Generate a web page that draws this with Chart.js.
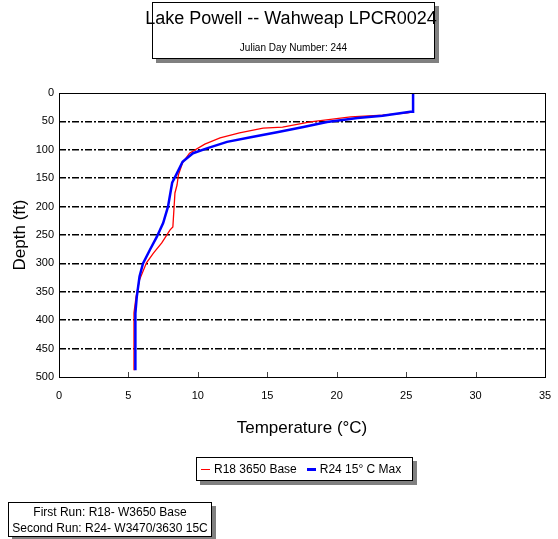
<!DOCTYPE html>
<html>
<head>
<meta charset="utf-8">
<script src="https://cdn.jsdelivr.net/npm/chart.js@4/dist/chart.umd.min.js"></script>
<style>
  body { margin: 0; background: #fff; font-family: "Liberation Sans", Arial, sans-serif; }
  #wrap { position: relative; width: 558px; height: 539px; }
  canvas { position: absolute; left: 0; top: 0; }
  .box { position: absolute; background: #fff; border: 1px solid #000; box-shadow: 4px 4px 0 #808080; box-sizing: border-box; }
  #titleBox { left: 152px; top: 2px; width: 283px; height: 57px; }
  #title { position: absolute; left: 0; width: 582px; top: 8px; text-align: center; font-size: 18px; white-space: nowrap; }
  #subtitle { position: absolute; left: 152px; width: 283px; top: 42px; text-align: center; font-size: 10px; }
  #legendBox { left: 196px; top: 457px; width: 217px; height: 24px; font-size: 12px; display: flex; align-items: center; padding-left: 4px; white-space: nowrap; }
  .item { display: flex; align-items: center; margin-right: 10px; }
  .swatch { width: 9px; height: 0; margin-right: 4px; }
  #noteBox { left: 8px; top: 502px; width: 204px; height: 35px; font-size: 12px; text-align: center; line-height: 16px; padding-top: 1px; white-space: nowrap; }
</style>
</head>
<body>
<div id="wrap">
  <canvas id="chart" width="558" height="539"></canvas>
  <div class="box" id="titleBox"></div>
  <div id="title">Lake Powell -- Wahweap LPCR0024</div>
  <div id="subtitle">Julian Day Number: 244</div>
  <div class="box" id="legendBox"></div>
  <div class="box" id="noteBox">First Run: R18- W3650 Base<br>Second Run: R24- W3470/3630 15C</div>
</div>
<script>
// series labels
const seriesNames = ["R18 3650 Base", "R24 15° C Max"];
const seriesColors = ["#ff0000", "#0000ff"];

// R18 3650 Base profile (temperature °C, depth ft)
const r18Temp = [25.5, 25.5, 25.1, 23.3, 21.0, 18.1, 16.1, 14.7, 13.0, 11.6, 10.5, 9.4, 8.9, 8.6, 8.5, 8.35, 8.2, 8.0, 7.4, 6.8, 6.3, 5.8, 5.55, 5.4, 5.4];
const r18Depth = [0, 33, 35, 39, 42, 51, 60, 62, 70, 79, 90, 106, 123, 144, 162, 176, 236, 241, 264, 282, 299, 329, 359, 387, 488];

// R24 15° C Max profile
const r24Temp = [25.5, 25.5, 25.3, 23.3, 21.5, 19.3, 17.6, 15.7, 13.8, 12.1, 10.7, 9.65, 8.9, 8.5, 8.15, 7.85, 7.5, 7.05, 6.55, 6.05, 5.8, 5.6, 5.5, 5.5];
const r24Depth = [0, 33, 33, 40, 44, 51, 60, 69, 78, 86, 97, 106, 121, 141, 158, 200, 229, 253, 276, 300, 323, 359, 388, 488];

// axis ticks
const tempTicks = [0, 5, 10, 15, 20, 25, 30, 35];
const depthTicks = [0, 50, 100, 150, 200, 250, 300, 350, 400, 450, 500];

const toPoints = (xs, ys) => xs.map((x, i) => ({ x: x, y: ys[i] }));

// legend (html)
const legendBox = document.getElementById("legendBox");
seriesNames.forEach((name, i) => {
  const item = document.createElement("div");
  item.className = "item";
  item.innerHTML = '<span class="swatch" style="border-top:' + (i === 1 ? 3 : 1) + 'px solid ' + seriesColors[i] + '"></span>' + name;
  legendBox.appendChild(item);
});

// frame around the plot + inward ticks on the x axis
const framePlugin = {
  id: "frame",
  afterDraw(chart) {
    const { ctx, chartArea: a, scales } = chart;
    ctx.save();
    ctx.strokeStyle = "#444";
    ctx.lineWidth = 1;
    ctx.beginPath();
    tempTicks.forEach((t) => {
      const x = Math.round(scales.x.getPixelForValue(t)) + 0.5;
      ctx.moveTo(x, a.bottom);
      ctx.lineTo(x, a.bottom - 5);
    });
    ctx.stroke();
    ctx.strokeStyle = "#000";
    ctx.strokeRect(Math.round(a.left) + 0.5, Math.round(a.top) + 0.5, Math.round(a.right - a.left), Math.round(a.bottom - a.top));
    ctx.restore();
  },
};

const ctx = document.getElementById("chart").getContext("2d");
Chart.defaults.font.family = '"Liberation Sans", Arial, sans-serif';
Chart.defaults.color = "#000";

new Chart(ctx, {
  type: "scatter",
  data: {
    datasets: [
      {
        label: seriesNames[1],
        data: toPoints(r24Temp, r24Depth),
        showLine: true,
        borderColor: seriesColors[1],
        borderWidth: 2.5,
        pointRadius: 0,
        fill: false,
        tension: 0,
      },
      {
        label: seriesNames[0],
        data: toPoints(r18Temp, r18Depth),
        showLine: true,
        borderColor: seriesColors[0],
        borderWidth: 1.3,
        pointRadius: 0,
        fill: false,
        tension: 0,
      },
    ],
  },
  options: {
    responsive: false,
    animation: false,
    layout: { padding: { top: 93, right: 13, bottom: 100, left: 0 } },
    plugins: {
      legend: { display: false },
      tooltip: { enabled: false },
    },
    scales: {
      x: {
        type: "linear",
        min: 0,
        max: 35,
        afterBuildTicks: (s) => { s.ticks = tempTicks.map((v) => ({ value: v })); },
        ticks: { font: { size: 11 }, padding: 12 },
        grid: { display: false, drawTicks: false },
        border: { display: false },
        title: { display: true, text: "Temperature (°C)", font: { size: 17 }, padding: 0 },
        afterFit: (s) => { s.height = 62; s.paddingLeft = 0; s.paddingRight = 0; },
      },
      y: {
        type: "linear",
        reverse: true,
        min: 0,
        max: 500,
        afterBuildTicks: (s) => { s.ticks = depthTicks.map((v) => ({ value: v })); },
        ticks: { font: { size: 11 }, padding: 5 },
        grid: {
          drawTicks: false,
          lineWidth: 1.5,
          color: (c) => (c.tick && (c.tick.value === 0 || c.tick.value === 500) ? "rgba(0,0,0,0)" : "#000"),
        },
        border: { display: false, dash: [7, 2, 2, 2] },
        title: { display: true, text: "Depth (ft)", font: { size: 17 }, padding: { top: 10, bottom: 0 } },
        afterFit: (s) => { s.width = 59; s.paddingTop = 0; s.paddingBottom = 0; },
      },
    },
  },
  plugins: [framePlugin],
});
</script>
</body>
</html>
